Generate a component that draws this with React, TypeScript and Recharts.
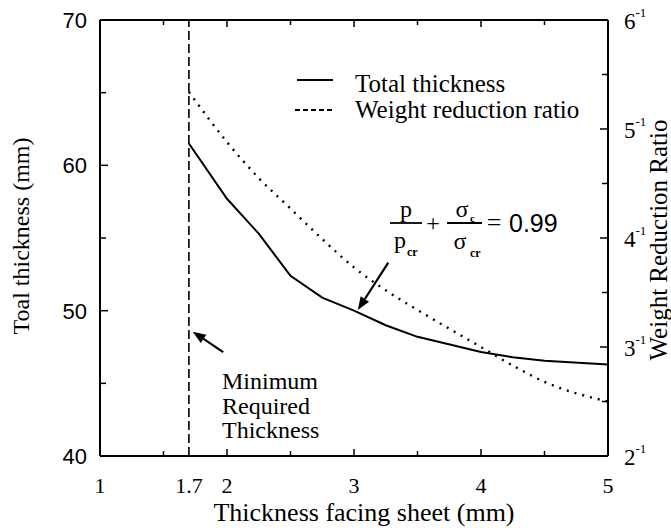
import React from 'react';
import { LineChart, Line, XAxis, YAxis, ReferenceLine } from 'recharts';

// values
const thicknessFacing = [1.7, 2, 2.25, 2.5, 2.75, 3, 3.25, 3.5, 4, 4.25, 4.5, 5];
const totalThickness = [61.5, 57.7, 55.3, 52.4, 50.9, 50.0, 49.0, 48.2, 47.15, 46.8, 46.55, 46.3];
const weightReductionRatio = [5.34, 4.88, 4.55, 4.27, 3.99, 3.73, 3.52, 3.34, 3.0, 2.83, 2.68, 2.5];

const xTickLabels = [1, 1.7, 2, 3, 4, 5];
const xMinorTicks = [1.5, 2.5, 3.5, 4.5];
const leftTickLabels = [40, 50, 60, 70];
const leftMinorTicks = [45, 55, 65];
const rightTickLabels = [2, 3, 4, 5, 6];
const rightMinorTicks = [2.5, 3.5, 4.5, 5.5];
const minimumThickness = 1.7;
const legendItems = ['Total thickness', 'Weight reduction ratio'];

const data = thicknessFacing.map((x, i) => ({
  x,
  total: totalThickness[i],
  ratio: weightReductionRatio[i],
}));

const serif = '"Liberation Serif", "Times New Roman", serif';
const sans = '"Liberation Sans", Arial, sans-serif';
const sorted = (a: number[]) => [...a].sort((p, q) => p - q);

function BottomTick({ x, y, payload }: any) {
  const v = payload.value;
  const labelled = xTickLabels.includes(v);
  return (
    <g>
      {v !== minimumThickness && (
        <line x1={x} x2={x} y1={y} y2={y - (labelled ? 7 : 5)} stroke="#000" strokeWidth={1.5} />
      )}
      {labelled && (
        <text x={x} y={y + 37} textAnchor="middle" fontFamily={serif} fontSize={22} fill="#000">
          {v}
        </text>
      )}
    </g>
  );
}

function TopTick({ x, y, payload }: any) {
  const labelled = xTickLabels.includes(payload.value);
  return <line x1={x} x2={x} y1={y} y2={y + (labelled ? 7 : 5)} stroke="#000" strokeWidth={1.5} />;
}

function LeftTick({ x, y, payload }: any) {
  const v = payload.value;
  const labelled = leftTickLabels.includes(v);
  return (
    <g>
      <line x1={x} x2={x + (labelled ? 8 : 6)} y1={y} y2={y} stroke="#000" strokeWidth={1.5} />
      {labelled && (
        <text x={x - 13} y={y + 8} textAnchor="end" fontFamily={sans} fontSize={22} fill="#000">
          {v}
        </text>
      )}
    </g>
  );
}

function RightTick({ x, y, payload }: any) {
  const v = payload.value;
  const labelled = rightTickLabels.includes(v);
  return (
    <g>
      <line x1={x} x2={x - (labelled ? 8 : 6)} y1={y} y2={y} stroke="#000" strokeWidth={1.5} />
      {labelled && (
        <text x={x + 16} y={y + 9} fontFamily={serif} fontSize={23} fill="#000">
          {v}
          <tspan dy={-12} fontSize={13}>-1</tspan>
        </text>
      )}
    </g>
  );
}

function Arrow({ x1, y1, x2, y2 }: any) {
  const a = Math.atan2(y2 - y1, x2 - x1);
  const len = 13;
  const w = 5;
  const bx = x2 - len * Math.cos(a);
  const by = y2 - len * Math.sin(a);
  const px = -Math.sin(a) * w;
  const py = Math.cos(a) * w;
  return (
    <g>
      <line x1={x1} y1={y1} x2={bx} y2={by} stroke="#000" strokeWidth={2.2} />
      <polygon points={`${x2},${y2} ${bx + px},${by + py} ${bx - px},${by - py}`} fill="#000" />
    </g>
  );
}

export default function App() {
  const axisLine = { stroke: '#000', strokeWidth: 2 };
  return (
    <>
      <style>{'body{margin:0;background:#fff}'}</style>
      <LineChart width={671} height={528} data={data} margin={{ top: 0, right: 0, bottom: 0, left: 0 }}>
        <XAxis
          xAxisId="b"
          dataKey="x"
          type="number"
          domain={[1, 5]}
          ticks={sorted([...xTickLabels, ...xMinorTicks])}
          interval={0}
          height={72}
          tickSize={0}
          tickMargin={0}
          axisLine={axisLine}
          tickLine={false}
          tick={<BottomTick />}
        />
        <XAxis
          xAxisId="t"
          orientation="top"
          dataKey="x"
          type="number"
          domain={[1, 5]}
          ticks={sorted([2, 3, 4, ...xMinorTicks])}
          interval={0}
          height={20}
          tickSize={0}
          tickMargin={0}
          axisLine={axisLine}
          tickLine={false}
          tick={<TopTick />}
        />
        <YAxis
          yAxisId="l"
          type="number"
          domain={[40, 70]}
          ticks={sorted([...leftTickLabels, ...leftMinorTicks])}
          interval={0}
          width={100}
          tickSize={0}
          tickMargin={0}
          axisLine={axisLine}
          tickLine={false}
          tick={<LeftTick />}
        />
        <YAxis
          yAxisId="r"
          orientation="right"
          type="number"
          domain={[2, 6]}
          ticks={sorted([...rightTickLabels, ...rightMinorTicks])}
          interval={0}
          width={63}
          tickSize={0}
          tickMargin={0}
          axisLine={axisLine}
          tickLine={false}
          tick={<RightTick />}
        />

        <ReferenceLine
          xAxisId="b"
          yAxisId="l"
          x={minimumThickness}
          stroke="#000"
          strokeWidth={1.6}
          strokeDasharray="9 4"
        />

        <Line
          xAxisId="b"
          yAxisId="l"
          dataKey="total"
          stroke="#000"
          strokeWidth={2}
          dot={false}
          isAnimationActive={false}
        />
        <Line
          xAxisId="b"
          yAxisId="r"
          dataKey="ratio"
          type="monotone"
          stroke="#000"
          strokeWidth={2.4}
          strokeDasharray="2 6"
          dot={false}
          isAnimationActive={false}
        />

        <ReferenceLine
          xAxisId="b"
          yAxisId="l"
          segment={[{ x: 3.27, y: 53.3 }, { x: 3.03, y: 50.05 }]}
          shape={<Arrow />}
        />
        <ReferenceLine
          xAxisId="b"
          yAxisId="l"
          segment={[{ x: 1.97, y: 47.15 }, { x: 1.73, y: 48.55 }]}
          shape={<Arrow />}
        />

        {/* legend */}
        <g fontFamily={serif} fontSize={25} fill="#000">
          <line x1={297} x2={333} y1={80} y2={80} stroke="#000" strokeWidth={2} />
          <text x={355} y={92}>{legendItems[0]}</text>
          <line x1={295} x2={333} y1={110} y2={110} stroke="#000" strokeWidth={2} strokeDasharray="5 3" />
          <text x={355} y={118}>{legendItems[1]}</text>
        </g>

        {/* interaction formula */}
        <g fontFamily={serif} fill="#000">
          <text x={406} y={217} fontSize={24} textAnchor="middle">p</text>
          <line x1={390} x2={422} y1={223} y2={223} stroke="#000" strokeWidth={1.8} />
          <text x={400} y={248} fontSize={24} textAnchor="middle">p</text>
          <text x={407} y={256} fontSize={12} fontWeight="bold">cr</text>
          <text x={433} y={231} fontSize={24} textAnchor="middle">+</text>
          <text x={462} y={217} fontSize={24} textAnchor="middle">σ</text>
          <text x={470} y={222} fontSize={11} fontWeight="bold">c</text>
          <line x1={447} x2={482} y1={223} y2={223} stroke="#000" strokeWidth={1.8} />
          <text x={460} y={249} fontSize={24} textAnchor="middle">σ</text>
          <text x={470} y={257} fontSize={12} fontWeight="bold">cr</text>
          <text x={494} y={231} fontSize={26} textAnchor="middle">=</text>
          <text x={509} y={232} fontSize={25} fontFamily={sans}>0.99</text>
        </g>

        <g fontFamily={serif} fontSize={24} fill="#000">
          <text x={222} y={389}>Minimum</text>
          <text x={222} y={414}>Required</text>
          <text x={222} y={438}>Thickness</text>
        </g>

        {/* axis titles */}
        <g fontFamily={serif} fill="#000">
          <text x={364} y={521} fontSize={26} textAnchor="middle">Thickness facing sheet (mm)</text>
          <text transform="translate(29,236) rotate(-90)" fontSize={24} textAnchor="middle">
            Toal thickness (mm)
          </text>
          <text transform="translate(667,240) rotate(-90)" fontSize={25} textAnchor="middle">
            Weight Reduction Ratio
          </text>
        </g>
      </LineChart>
    </>
  );
}
